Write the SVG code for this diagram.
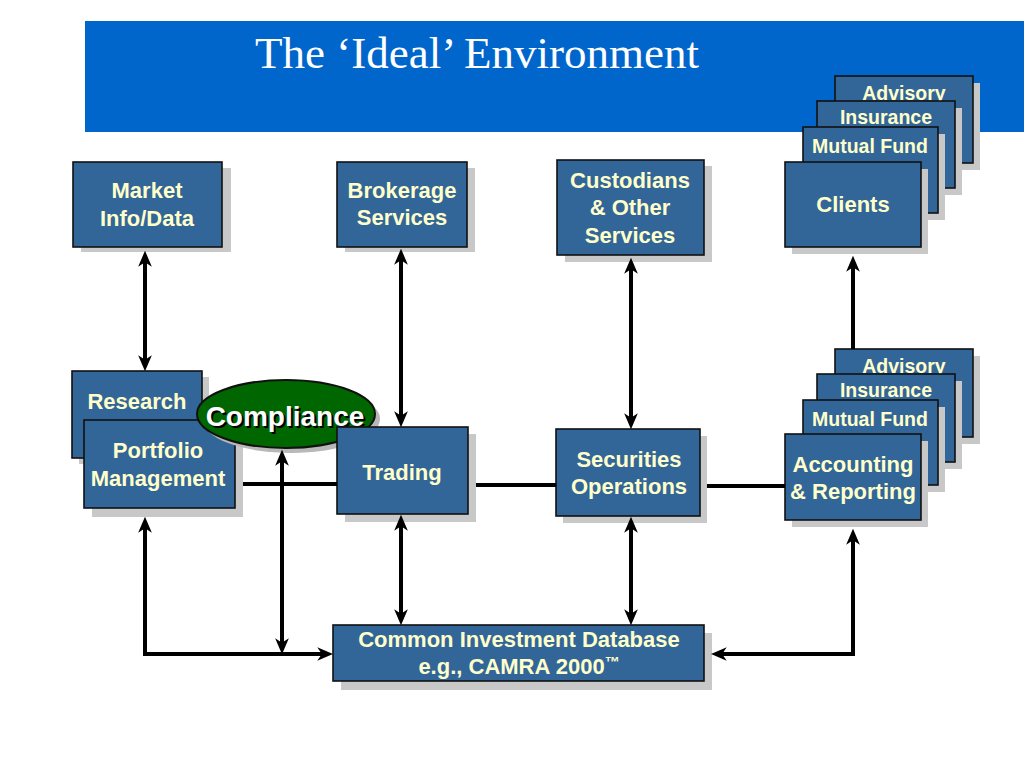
<svg xmlns="http://www.w3.org/2000/svg" width="1024" height="768" viewBox="0 0 1024 768">
<style>
.box{fill:#326699;stroke:#111;stroke-width:1.6}
.sh{fill:#C8C8C8}
.t{font-family:"Liberation Sans",Arial,sans-serif;font-weight:bold;font-size:22px;fill:#FFFFCC;text-anchor:middle}
.ts{font-size:19.5px}
.ln{fill:none;stroke:#000;stroke-width:4}
.a2{marker-start:url(#ah);marker-end:url(#ah)}
.a1{marker-end:url(#ah)}
</style>
<defs>
<marker id="ah" markerUnits="userSpaceOnUse" markerWidth="16" markerHeight="14" viewBox="0 0 14 12" refX="5" refY="6" orient="auto-start-reverse">
<path d="M0,0 L14,6 L0,12 L4,6 z" fill="#000"/>
</marker>
</defs>
<rect width="1024" height="768" fill="#fff"/>
<g id="title">
<rect x="85" y="21" width="939" height="111" fill="#0066CC"/>
<text x="255" y="68" font-family="Liberation Serif,Times New Roman,serif" font-size="45" fill="#fff">The ‘Ideal’ Environment</text>
</g>
<g id="clients-stack">
<rect class="sh" x="842" y="83" width="138" height="87"/>
<rect class="box" x="835" y="76" width="138" height="87"/>
<text class="t ts" x="904" y="100">Advisory</text>
<rect class="sh" x="824" y="108" width="138" height="87"/>
<rect class="box" x="817" y="101" width="138" height="87"/>
<text class="t ts" x="886" y="124">Insurance</text>
<rect class="sh" x="810" y="134" width="135" height="86"/>
<rect class="box" x="803" y="127" width="135" height="86"/>
<text class="t ts" x="870" y="153">Mutual Fund</text>
<rect class="sh" x="792" y="169" width="136" height="85"/>
<rect class="box" x="785" y="162" width="136" height="85"/>
<text class="t" x="853" y="212">Clients</text>
</g>
<g id="accounting-stack">
<rect class="sh" x="842" y="356" width="138" height="88"/>
<rect class="box" x="835" y="349" width="138" height="88"/>
<text class="t ts" x="904" y="373">Advisory</text>
<rect class="sh" x="824" y="381" width="138" height="88"/>
<rect class="box" x="817" y="374" width="138" height="88"/>
<text class="t ts" x="886" y="397">Insurance</text>
<rect class="sh" x="810" y="407" width="135" height="85"/>
<rect class="box" x="803" y="400" width="135" height="85"/>
<text class="t ts" x="870" y="426">Mutual Fund</text>
<rect class="sh" x="792" y="441" width="136" height="86"/>
<rect class="box" x="785" y="434" width="136" height="86"/>
<text class="t" x="853" y="472">Accounting</text>
<text class="t" x="853" y="499">&amp; Reporting</text>
</g>
<g id="market">
<rect class="sh" x="81" y="168" width="150" height="84"/>
<rect class="box" x="73" y="162" width="149" height="85"/>
<text class="t" x="147" y="198">Market</text>
<text class="t" x="147" y="226">Info/Data</text>
</g>
<g id="brokerage">
<rect class="sh" x="345" y="168" width="130" height="84"/>
<rect class="box" x="337" y="162" width="130" height="85"/>
<text class="t" x="402" y="198">Brokerage</text>
<text class="t" x="402" y="225">Services</text>
</g>
<g id="custodians">
<rect class="sh" x="565" y="166" width="147" height="96"/>
<rect class="box" x="557" y="160" width="147" height="95"/>
<text class="t" x="630" y="188">Custodians</text>
<text class="t" x="630" y="215">&amp; Other</text>
<text class="t" x="630" y="243">Services</text>
</g>
<g id="research">
<rect class="sh" x="79" y="377" width="130" height="87"/>
<rect class="box" x="72" y="371" width="130" height="87"/>
<text class="t" x="137" y="409">Research</text>
</g>
<g id="portfolio">
<rect class="sh" x="92" y="428" width="151" height="89"/>
<rect class="box" x="84" y="420" width="151" height="88"/>
<text class="t" x="158" y="458">Portfolio</text>
<text class="t" x="158" y="486">Management</text>
</g>
<g id="compliance">
<ellipse cx="291" cy="419" rx="89" ry="34" fill="#B8B8B8"/>
<ellipse cx="286" cy="414" rx="89" ry="34" fill="#006600" stroke="#111" stroke-width="2"/>
<text x="287" y="428" font-family="Liberation Sans,Arial,sans-serif" font-weight="bold" font-size="28" fill="#000" text-anchor="middle">Compliance</text>
<text x="285" y="426" font-family="Liberation Sans,Arial,sans-serif" font-weight="bold" font-size="28" fill="#fff" text-anchor="middle">Compliance</text>
</g>
<g id="trading">
<rect class="sh" x="345" y="434" width="131" height="88"/>
<rect class="box" x="337" y="427" width="131" height="87"/>
<text class="t" x="402" y="480">Trading</text>
</g>
<g id="securities">
<rect class="sh" x="563" y="436" width="144" height="87"/>
<rect class="box" x="556" y="429" width="144" height="87"/>
<text class="t" x="629" y="467">Securities</text>
<text class="t" x="629" y="494">Operations</text>
</g>
<g id="database">
<rect class="sh" x="341" y="633" width="371" height="57"/>
<rect class="box" x="333" y="625" width="371" height="56"/>
<text class="t" x="519" y="647">Common Investment Database</text>
<text class="t" x="519" y="674">e.g., CAMRA 2000<tspan font-size="15" dy="-7">™</tspan></text>
</g>
<g id="connectors">
<path class="ln" d="M243,484 H337"/>
<path class="ln" d="M476,485 H556"/>
<path class="ln" d="M707,486 H785"/>
<path class="ln a2" d="M145,261 V361"/>
<path class="ln a2" d="M401,259 V417"/>
<path class="ln a2" d="M631,268 V419"/>
<path class="ln a2" d="M401,525 V615"/>
<path class="ln a2" d="M631,527 V615"/>
<path class="ln a2" d="M282,460 V644"/>
<path class="ln a2" d="M145,527 V654 H323"/>
<path class="ln a2" d="M853,539 V654 H721"/>
<path class="ln a1" d="M853,349 V266"/>
</g>
</svg>
